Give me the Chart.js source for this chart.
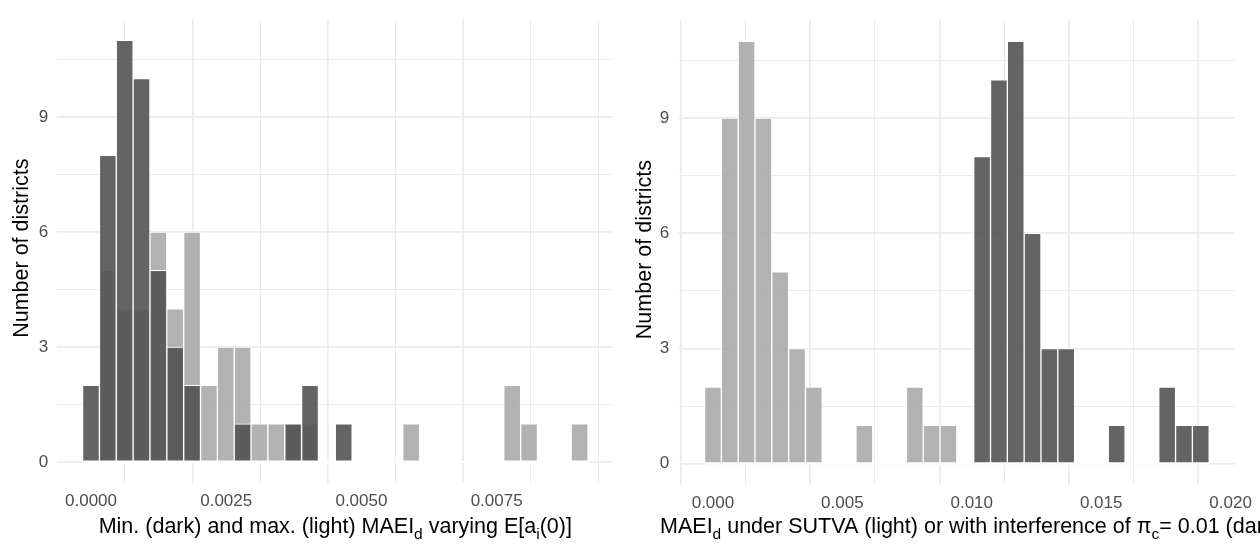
<!DOCTYPE html>
<html>
<head>
<meta charset="utf-8">
<script src="https://cdn.jsdelivr.net/npm/chart.js@4.4.1/dist/chart.umd.min.js"></script>
<style>
  body { margin: 0; background: #fff; }
  #wrap { display: flex; width: 1260px; height: 544px; overflow: hidden; }
  canvas { display: block; }
</style>
</head>
<body>
<div id="wrap">
  <canvas id="leftChart" width="630" height="544"></canvas>
  <canvas id="rightChart" width="630" height="544"></canvas>
</div>
<script>
// counts per bin (30 bins each, first bin centred on 0)
var leftBinWidth = 0.0003115;
var leftDark  = [2, 8, 11, 10, 5, 3, 2, 0, 0, 1, 0, 0, 1, 2, 0, 1, 0, 0, 0, 0, 0, 0, 0, 0, 0, 0, 0, 0, 0, 0];
var leftLight = [0, 5, 4, 4, 6, 4, 6, 2, 3, 3, 1, 1, 1, 1, 0, 0, 0, 0, 0, 1, 0, 0, 0, 0, 0, 2, 1, 0, 0, 1];
var leftBreaks = [0, 0.0025, 0.005, 0.0075];

var rightBinWidth = 0.00065;
var rightLight = [2, 9, 11, 9, 5, 3, 2, 0, 0, 1, 0, 0, 2, 1, 1, 0, 0, 0, 0, 0, 0, 0, 0, 0, 0, 0, 0, 0, 0, 0];
var rightDark  = [0, 0, 0, 0, 0, 0, 0, 0, 0, 0, 0, 0, 0, 0, 0, 0, 8, 10, 11, 6, 3, 3, 0, 0, 1, 0, 0, 2, 1, 1];
var rightBreaks = [0, 0.005, 0.01, 0.015, 0.02];

var countBreaks = [0, 3, 6, 9];

var FONT = "'Liberation Sans', Arial, sans-serif";
var DARK = 'rgba(83,83,83,0.9)';
var LIGHT = 'rgba(170,170,170,0.9)';
var GRID = '#ebebeb';

//majors plus the half-way minor lines, kept inside [lo, hi]
function gridValues(breaks, lo, hi) {
  var step = breaks[1] - breaks[0];
  var out = [];
  for (var i = -1; i <= breaks.length; i++) {
    var b = breaks[0] + i * step;
    if (b >= lo && b <= hi) out.push(b);
    var m = b + step / 2;
    if (m >= lo && m <= hi) out.push(m);
  }
  return out;
}
function isMajor(breaks, v) {
  return breaks.some(function(b){ return Math.abs(b - v) < 1e-9; });
}
function gridWidth(breaks) {
  return function(c) {
    if (!c.tick) return 1;
    return isMajor(breaks, c.tick.value) ? 1.8 : 1;
  };
}

// axis titles with sub scripts, plus the white outline of the empty bins along 0
var axisTitles = {
  id: 'axisTitles',
  beforeDatasetsDraw: function(chart) {
    var meta = chart.getDatasetMeta(0);
    var first = meta.data[0], last = meta.data[meta.data.length - 1];
    var y0 = chart.scales.y.getPixelForValue(0);
    var ctx = chart.ctx;
    ctx.save();
    ctx.strokeStyle = '#fff';
    ctx.lineWidth = 2;
    ctx.beginPath();
    ctx.moveTo(first.x - first.width / 2, y0);
    ctx.lineTo(last.x + last.width / 2, y0);
    ctx.stroke();
    ctx.restore();
  },
  afterDraw: function(chart, args, o) {
    var ctx = chart.ctx;
    var area = chart.chartArea;
    var size = o.size;
    ctx.save();
    ctx.fillStyle = '#000';
    ctx.font = size + 'px ' + FONT;
    ctx.textAlign = 'center';
    ctx.textBaseline = 'middle';
    ctx.translate(o.yTitleX, (area.top + area.bottom) / 2 - 3);
    ctx.rotate(-Math.PI / 2);
    ctx.fillText('Number of districts', 0, 0);
    ctx.restore();

    // x title
    ctx.save();
    ctx.fillStyle = '#000';
    ctx.textAlign = 'left';
    ctx.textBaseline = 'alphabetic';
    var subSize = size * 0.72;
    var total = 0;
    o.xTitle.forEach(function(p) {
      ctx.font = (p.sub ? subSize : size) + 'px ' + FONT;
      p.w = ctx.measureText(p.t).width;
      total += p.w;
    });
    var x = (area.left + area.right) / 2 - total / 2 + (o.xTitleShift || 0);
    o.xTitle.forEach(function(p) {
      ctx.font = (p.sub ? subSize : size) + 'px ' + FONT;
      ctx.fillText(p.t, x, o.xTitleY + (p.sub ? size * 0.28 : 0));
      x += p.w;
    });
    ctx.restore();
  }
};

function panel(id, o) {
  var centers = o.dark.map(function(_, k){ return k * o.binWidth; });
  var lo = centers[0] - o.binWidth / 2;
  var hi = centers[centers.length - 1] + o.binWidth / 2;
  var padX = (hi - lo) * 0.05;
  var xmin = lo - padX, xmax = hi + padX;
  var cmax = Math.max(Math.max.apply(null, o.dark), Math.max.apply(null, o.light));
  var ymin = -cmax * 0.05, ymax = cmax * 1.05;
  var xGrid = gridValues(o.breaks, xmin, xmax);
  var yGrid = gridValues(countBreaks, ymin, ymax);

  function pts(arr) {
    return arr.map(function(c, k){ return { x: centers[k], y: c }; });
  }
  function bars(label, arr, color, order) {
    return {
      label: label,
      data: pts(arr),
      backgroundColor: color,
      borderColor: '#ffffff',
      borderWidth: 1,
      borderSkipped: false,
      grouped: false,
      barPercentage: 1,
      categoryPercentage: 1,
      order: order
    };
  }

  return new Chart(document.getElementById(id), {
    type: 'bar',
    data: {
      datasets: [
        bars('dark', o.dark, DARK, 0),
        bars('light', o.light, LIGHT, 1)
      ]
    },
    options: {
      responsive: false,
      animation: false,
      events: [],
      layout: { padding: { left: 0, right: o.padRight, top: o.padTop, bottom: 0 } },
      plugins: {
        legend: { display: false },
        tooltip: { enabled: false },
        axisTitles: { size: o.titleSize, yTitleX: o.yTitleX, xTitleY: o.xTitleY, xTitle: o.xTitle, xTitleShift: o.xTitleShift }
      },
      scales: {
        x: {
          type: 'linear',
          min: xmin,
          max: xmax,
          offset: false,
          border: { display: false },
          grid: { color: GRID, drawTicks: false, lineWidth: gridWidth(o.breaks) },
          afterBuildTicks: function(s){ s.ticks = xGrid.map(function(v){ return { value: v }; }); },
          afterFit: function(s){ s.height = o.xAxisHeight; },
          ticks: {
            autoSkip: false,
            maxRotation: 0,
            padding: 8,
            color: '#4d4d4d',
            font: { family: FONT, size: 17 },
            callback: function(v){ return isMajor(o.breaks, v) ? v.toFixed(o.digits) : ''; }
          }
        },
        y: {
          min: ymin,
          max: ymax,
          border: { display: false },
          grid: { color: GRID, drawTicks: false, lineWidth: gridWidth(countBreaks) },
          afterBuildTicks: function(s){ s.ticks = yGrid.map(function(v){ return { value: v }; }); },
          afterFit: function(s){ s.width = o.yAxisWidth; },
          ticks: {
            autoSkip: false,
            padding: o.yLabelPad,
            color: '#4d4d4d',
            font: { family: FONT, size: 17 },
            callback: function(v){ return isMajor(countBreaks, v) ? String(Math.round(v)) : ''; }
          }
        }
      }
    },
    plugins: [axisTitles]
  });
}

panel('leftChart', {
  binWidth: leftBinWidth, dark: leftDark, light: leftLight, breaks: leftBreaks, digits: 4,
  padRight: 16.7, padTop: 9.4, yAxisWidth: 57.3, xAxisHeight: 60.8, yLabelPad: 9,
  titleSize: 21.5, yTitleX: 22, xTitleY: 533, xTitleShift: 0,
  xTitle: [
    { t: 'Min. (dark) and max. (light) MAEI' }, { t: 'd', sub: true },
    { t: ' varying E[a' }, { t: 'i', sub: true }, { t: '(0)]' }
  ]
});

panel('rightChart', {
  binWidth: rightBinWidth, dark: rightDark, light: rightLight, breaks: rightBreaks, digits: 3,
  padRight: 24.3, padTop: 9.9, yAxisWidth: 49.3, xAxisHeight: 59.1, yLabelPad: 10,
  titleSize: 21.5, yTitleX: 15.5, xTitleY: 533, xTitleShift: 14,
  xTitle: [
    { t: 'MAEI' }, { t: 'd', sub: true },
    { t: ' under SUTVA (light) or with interference of \u03c0' }, { t: 'c', sub: true },
    { t: '= 0.01 (dark)' }
  ]
});
</script>
</body>
</html>
